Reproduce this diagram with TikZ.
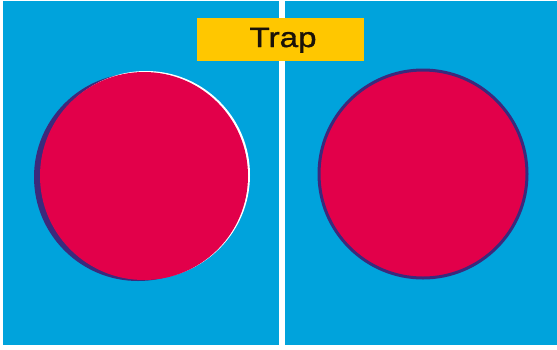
\documentclass[tikz,border=0pt]{standalone}
\usepackage{fontspec}
\setmainfont{Liberation Sans}
\newfontfamily\trapfont{Liberation Sans}[FakeBold=1.2]
\definecolor{bgblue}{HTML}{00A3DC}
\definecolor{discred}{HTML}{E2004A}
\definecolor{navy}{HTML}{3B2A7C}
\definecolor{labelyellow}{HTML}{FFC700}
\definecolor{textblack}{HTML}{1A1208}
\tikzset{
  panel/.style={fill=bgblue, draw=none},
  disc/.style={fill=discred, draw=none},
  labelbox/.style={fill=labelyellow, draw=none, minimum width=167bp, minimum height=43bp, inner sep=0pt},
  labeltext/.style={inner sep=0pt, text=textblack, font=\trapfont\fontsize{28}{28}\selectfont}
}
\begin{document}
\begin{tikzpicture}[x=1bp,y=-1bp]
\useasboundingbox (0,0) rectangle (557,349);
\fill[white] (0,0) rectangle (557,349);
% panels
\path[panel] (3,1) rectangle (279,345);
\path[panel] (285,1) rectangle (557,345);
% left disc: shadow, highlight, disc
\fill[navy] (138,177) circle[radius=104];
\fill[white] (146,175) circle[radius=104];
\path[disc] (144,176) circle[radius=104];
% right disc with outline
\path[disc, draw=navy, line width=3bp] (423,174) circle[radius=104];
% label
\node[labelbox] (trapbox) at (280.5,39.5) {};
\node[labeltext, anchor=base] (trap) at (283,47) {\scalebox{1.19}[1]{Trap}};
\end{tikzpicture}
\end{document}
